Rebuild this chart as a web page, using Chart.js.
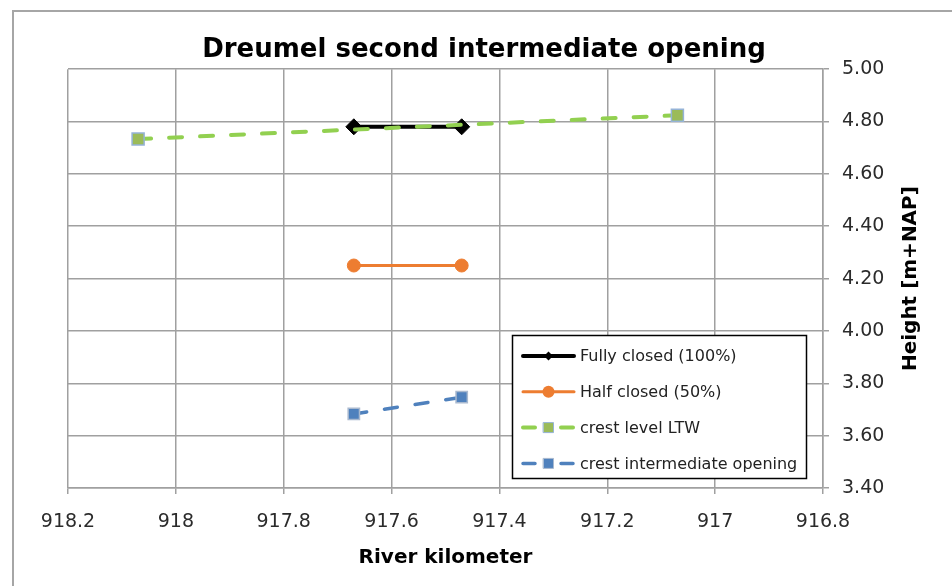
<!DOCTYPE html>
<html>
<head>
<meta charset="utf-8">
<script src="https://cdn.jsdelivr.net/npm/chart.js@4.4.1/dist/chart.umd.min.js"></script>
<style>
  html, body { margin: 0; padding: 0; background: #fff; overflow: hidden; }
  #frame {
    position: absolute; left: 12px; top: 10px; width: 1000px; height: 700px;
    border-left: 2px solid #a6a6a6; border-top: 2px solid #a6a6a6;
  }
  #chart { position: absolute; left: 0; top: 0; }
</style>
</head>
<body>
<div id="frame"></div>
<canvas id="chart" width="952" height="586"></canvas>
<script>
const TITLE = "Dreumel second intermediate opening";
const X_TITLE = "River kilometer";
const Y_TITLE = "Height [m+NAP]";

const SERIES_LABELS = [
  "Fully closed (100%)",
  "Half closed (50%)",
  "crest level LTW",
  "crest intermediate opening",
];

// river kilometer / height pairs
const FULLY_KM = [917.67, 917.47];
const FULLY_H = [4.78, 4.78];
const HALF_KM = [917.67, 917.47];
const HALF_H = [4.25, 4.25];
const LTW_KM = [918.07, 917.07];
const LTW_H = [4.733, 4.824];
const OPENING_KM = [917.67, 917.47];
const OPENING_H = [3.683, 3.747];

const X_MIN = 916.8, X_MAX = 918.2, X_STEP = 0.2;
const Y_MIN = 3.4, Y_MAX = 5.0, Y_STEP = 0.2;

const FONT = "'DejaVu Sans', sans-serif";
const GRID = "#a0a0a0";
const TICK_TEXT = "#2b2b2b";

function toPoints(xs, ys) {
  return xs.map((x, i) => ({ x, y: ys[i] }));
}

function drawMarker(ctx, style, x, y, r, fill, stroke) {
  ctx.beginPath();
  if (style === "circle") {
    ctx.arc(x, y, r, 0, Math.PI * 2);
  } else if (style === "rect") {
    ctx.rect(x - r, y - r, 2 * r, 2 * r);
  } else {
    ctx.moveTo(x, y - r);
    ctx.lineTo(x + r, y);
    ctx.lineTo(x, y + r);
    ctx.lineTo(x - r, y);
    ctx.closePath();
  }
  ctx.fillStyle = fill;
  ctx.fill();
  if (stroke) {
    ctx.strokeStyle = stroke;
    ctx.lineWidth = 1;
    ctx.stroke();
  }
}

// rotated title on the right-hand axis (reads bottom to top)
const sideTitle = {
  id: "sideTitle",
  afterDraw(chart) {
    const { ctx, chartArea } = chart;
    ctx.save();
    ctx.translate(911, (chartArea.top + chartArea.bottom) / 2);
    ctx.rotate(-Math.PI / 2);
    ctx.font = `bold 20px ${FONT}`;
    ctx.fillStyle = "#000";
    ctx.textAlign = "center";
    ctx.textBaseline = "middle";
    ctx.fillText(Y_TITLE, 0, 0);
    ctx.restore();
  },
};

// boxed legend sitting inside the plot, bottom right
const LEGEND_MARK = [4.5, 6, 5, 5];
const boxLegend = {
  id: "boxLegend",
  afterDatasetsDraw(chart) {
    const { ctx } = chart;
    const bx = 512.5, by = 335.5, bw = 294, bh = 143;
    ctx.save();
    ctx.fillStyle = "#fff";
    ctx.fillRect(bx, by, bw, bh);
    ctx.strokeStyle = "#000";
    ctx.lineWidth = 1.5;
    ctx.strokeRect(bx, by, bw, bh);

    chart.data.datasets.forEach((ds, i) => {
      const y = 356 + i * 35.8;
      ctx.strokeStyle = ds.borderColor;
      ctx.lineWidth = ds.borderWidth;
      ctx.lineCap = "round";
      ctx.beginPath();
      if (ds.borderDash) {
        ctx.moveTo(523, y); ctx.lineTo(535, y);
        ctx.moveTo(561, y); ctx.lineTo(573, y);
      } else {
        ctx.moveTo(523, y); ctx.lineTo(574, y);
      }
      ctx.stroke();
      drawMarker(ctx, ds.pointStyle, 548.5, y, LEGEND_MARK[i],
        ds.pointBackgroundColor, ds.borderDash ? ds.pointBorderColor : null);

      ctx.fillStyle = "#222";
      ctx.font = `16px ${FONT}`;
      ctx.textAlign = "left";
      ctx.textBaseline = "middle";
      ctx.fillText(ds.label, 580, y + 1);
    });
    ctx.restore();
  },
};

const datasets = [
  {
    label: SERIES_LABELS[0],
    data: toPoints(FULLY_KM, FULLY_H),
    borderColor: "#000000",
    borderWidth: 4,
    pointStyle: "rectRot",
    pointRadius: 8,
    pointBackgroundColor: "#000000",
    pointBorderColor: "#000000",
    pointBorderWidth: 1,
    order: 3,
  },
  {
    label: SERIES_LABELS[1],
    data: toPoints(HALF_KM, HALF_H),
    borderColor: "#ed7d31",
    borderWidth: 3,
    pointStyle: "circle",
    pointRadius: 6.5,
    pointBackgroundColor: "#ed7d31",
    pointBorderColor: "#ed7d31",
    pointBorderWidth: 1,
    order: 2,
  },
  {
    label: SERIES_LABELS[2],
    data: toPoints(LTW_KM, LTW_H),
    borderColor: "#92d050",
    borderWidth: 4,
    borderDash: [13, 18],
    borderCapStyle: "round",
    pointStyle: "rect",
    pointRadius: 8.5,
    pointBackgroundColor: "#9bbb59",
    pointBorderColor: "#95b3d7",
    pointBorderWidth: 1.5,
    order: 1,
  },
  {
    label: SERIES_LABELS[3],
    data: toPoints(OPENING_KM, OPENING_H),
    borderColor: "#4f81bd",
    borderWidth: 3.5,
    borderDash: [13, 18],
    borderCapStyle: "round",
    pointStyle: "rect",
    pointRadius: 8,
    pointBackgroundColor: "#4f81bd",
    pointBorderColor: "#a9b9cf",
    pointBorderWidth: 1.5,
    order: 0,
  },
];

new Chart(document.getElementById("chart"), {
  type: "scatter",
  data: { datasets },
  options: {
    responsive: false,
    animation: false,
    devicePixelRatio: 1,
    showLine: true,
    layout: { padding: { left: 16, right: 0, top: 0, bottom: 0 } },
    scales: {
      x: {
        type: "linear",
        reverse: true,
        min: X_MIN,
        max: X_MAX,
        afterFit: (s) => { s.height = 98; },
        ticks: {
          stepSize: X_STEP,
          autoSkip: false,
          maxRotation: 0,
          padding: 17,
          color: TICK_TEXT,
          font: { family: FONT, size: 19 },
          callback: (v) => String(Math.round(v * 10) / 10),
        },
        grid: { color: GRID, lineWidth: 1.5, tickLength: 6 },
        border: { color: GRID, width: 1.5 },
        title: {
          display: true,
          text: X_TITLE,
          color: "#000",
          font: { family: FONT, size: 20, weight: "bold" },
          padding: { top: 0, bottom: 16 },
        },
      },
      y: {
        position: "right",
        min: Y_MIN,
        max: Y_MAX,
        afterFit: (s) => { s.width = 129; },
        ticks: {
          stepSize: Y_STEP,
          padding: 13,
          color: TICK_TEXT,
          font: { family: FONT, size: 19 },
          callback: (v) => v.toFixed(2),
        },
        grid: { color: GRID, lineWidth: 1.5, tickLength: 6 },
        border: { color: GRID, width: 1.5 },
      },
      // empty spacer so the title centres like the original
      yl: {
        position: "left",
        min: Y_MIN,
        max: Y_MAX,
        afterFit: (s) => { s.width = 52; },
        ticks: { display: false },
        grid: { display: false, drawTicks: false },
        border: { display: false },
      },
    },
    plugins: {
      legend: { display: false },
      tooltip: { enabled: false },
      title: {
        display: true,
        text: TITLE,
        color: "#000",
        font: { family: FONT, size: 26, weight: "bold" },
        padding: { top: 35, bottom: 3 },
      },
    },
  },
  plugins: [boxLegend, sideTitle],
});
</script>
</body>
</html>
